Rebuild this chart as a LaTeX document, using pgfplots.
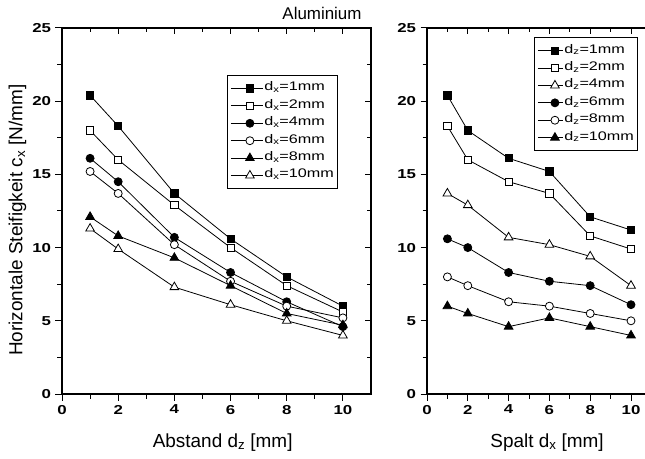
\documentclass[border=0pt]{standalone}
\usepackage{fontspec}
\setmainfont{Liberation Sans}
\newfontfamily\tickfont[FakeStretch=1.3]{Liberation Sans}
\newfontfamily\legfont[FakeStretch=1.3]{Liberation Sans}
\usepackage{pgfplots}
\pgfplotsset{compat=1.18}

\pgfplotsset{
  frame/.style={
    scale only axis, height=366bp,
    xmin=0, xmax=11, ymin=0, ymax=25,
    xtick={0,2,...,10}, ytick={0,5,...,25},
    minor xtick={1,3,...,9}, minor ytick={2.5,7.5,...,22.5},
    major tick length=6.5bp, minor tick length=4.5bp,
    axis line style={line width=1.3bp},
    every tick/.style={line width=1bp,black},
    /pgf/number format/assume math mode=true,
    tick label style={font=\tickfont\bfseries\fontsize{13}{13}\selectfont},
    label style={font=\fontsize{19}{20}\selectfont},
    anchor=south west,
  },
  lower/.style={frame, tick align=outside, xtick pos=left, ytick pos=left,
    xticklabel style={yshift=-1bp}, yticklabel style={xshift=-1bp}},
  upper/.style={frame, tick align=inside, xtick pos=right, ytick pos=right,
    xticklabels={}, yticklabels={}},
  ser/.style={black, line width=0.8bp, mark options={line width=0.8bp, solid}},
  fsq/.style={ser, mark=square*, mark size=3.6bp, mark options={fill=black}},
  osq/.style={ser, mark=square*, mark size=3.6bp, mark options={fill=white}},
  fci/.style={ser, mark=*, mark size=4bp, mark options={fill=black}},
  oci/.style={ser, mark=*, mark size=4bp, mark options={fill=white}},
  ftr/.style={ser, mark=triangle*, mark size=5bp, mark options={fill=black}},
  otr/.style={ser, mark=triangle*, mark size=5bp, mark options={fill=white}},
  leg/.style={
    legend cell align=left,
    legend style={draw=black, line width=1bp, fill=white,
      font=\legfont\fontsize{12.5}{13}\selectfont,
      inner xsep=3bp, inner ysep=5.5bp, row sep=2.4bp, column sep=0pt,
      nodes={inner xsep=1bp, inner ysep=0pt, text height=10bp, text depth=5bp}},
  },
}

\begin{document}
\begin{tikzpicture}
% ---------------- left panel ----------------
\begin{axis}[lower, width=309bp, at={(62bp,65bp)},
  xlabel={Abstand d\textsubscript{z} [mm]},
  ylabel={Horizontale Steifigkeit c\textsubscript{x} [N/mm]},
  xlabel style={at={(axis description cs:0.52,-0.145)}, anchor=base},
  ylabel style={at={(axis description cs:-0.128,0.475)}, anchor=base},
  leg,
  legend style={at={(axis description cs:0.534,0.8716)}, anchor=north west},
  legend image code/.code={\draw[mark repeat=2, mark phase=2] plot coordinates {(0bp,0bp) (19bp,0bp) (32bp,0bp)};},
]
\addplot[fsq] coordinates {(1,20.4) (2,18.3) (4,13.7) (6,10.6) (8,8.0) (10,6.0)};
\addlegendentry{d\textsubscript{x}=1mm}
\addplot[osq] coordinates {(1,18.0) (2,16.0) (4,12.9) (6,10.0) (8,7.4) (10,5.6)};
\addlegendentry{d\textsubscript{x}=2mm}
\addplot[fci] coordinates {(1,16.1) (2,14.5) (4,10.7) (6,8.3) (8,6.3) (10,4.6)};
\addlegendentry{d\textsubscript{x}=4mm}
\addplot[oci] coordinates {(1,15.2) (2,13.7) (4,10.2) (6,7.7) (8,6.0) (10,5.2)};
\addlegendentry{d\textsubscript{x}=6mm}
\addplot[ftr] coordinates {(1,12.1) (2,10.8) (4,9.3) (6,7.4) (8,5.5) (10,4.7)};
\addlegendentry{d\textsubscript{x}=8mm}
\addplot[otr] coordinates {(1,11.3) (2,9.9) (4,7.3) (6,6.1) (8,5.0) (10,4.0)};
\addlegendentry{d\textsubscript{x}=10mm}
\end{axis}
\begin{axis}[upper, width=309bp, at={(62bp,65bp)}]
\end{axis}
% ---------------- right panel ----------------
\begin{axis}[lower, width=224.4bp, at={(427bp,65bp)},
  xlabel={Spalt d\textsubscript{x} [mm]},
  xlabel style={at={(axis description cs:0.535,-0.145)}, anchor=base},
  leg,
  legend style={at={(axis description cs:0.477,0.975)}, anchor=north west},
  legend image code/.code={\draw[mark repeat=2, mark phase=2] plot coordinates {(0bp,0bp) (17bp,0bp) (25bp,0bp)};},
]
\addplot[fsq] coordinates {(1,20.4) (2,18.0) (4,16.1) (6,15.2) (8,12.1) (10,11.2)};
\addlegendentry{d\textsubscript{z}=1mm}
\addplot[osq] coordinates {(1,18.3) (2,16.0) (4,14.5) (6,13.7) (8,10.8) (10,9.9)};
\addlegendentry{d\textsubscript{z}=2mm}
\addplot[otr] coordinates {(1,13.7) (2,12.9) (4,10.7) (6,10.2) (8,9.4) (10,7.4)};
\addlegendentry{d\textsubscript{z}=4mm}
\addplot[fci] coordinates {(1,10.6) (2,10.0) (4,8.3) (6,7.7) (8,7.4) (10,6.1)};
\addlegendentry{d\textsubscript{z}=6mm}
\addplot[oci] coordinates {(1,8.0) (2,7.4) (4,6.3) (6,6.0) (8,5.5) (10,5.0)};
\addlegendentry{d\textsubscript{z}=8mm}
\addplot[ftr] coordinates {(1,6.0) (2,5.5) (4,4.6) (6,5.2) (8,4.6) (10,4.0)};
\addlegendentry{d\textsubscript{z}=10mm}
\end{axis}
\begin{axis}[upper, width=224.4bp, at={(427bp,65bp)}]
\end{axis}
\node[anchor=base, font=\fontsize{17}{18}\selectfont] at (322bp,439bp) {Aluminium};
\pgfresetboundingbox
\path[use as bounding box] (0bp,0bp) rectangle (645bp,459bp);
\end{tikzpicture}
\end{document}
